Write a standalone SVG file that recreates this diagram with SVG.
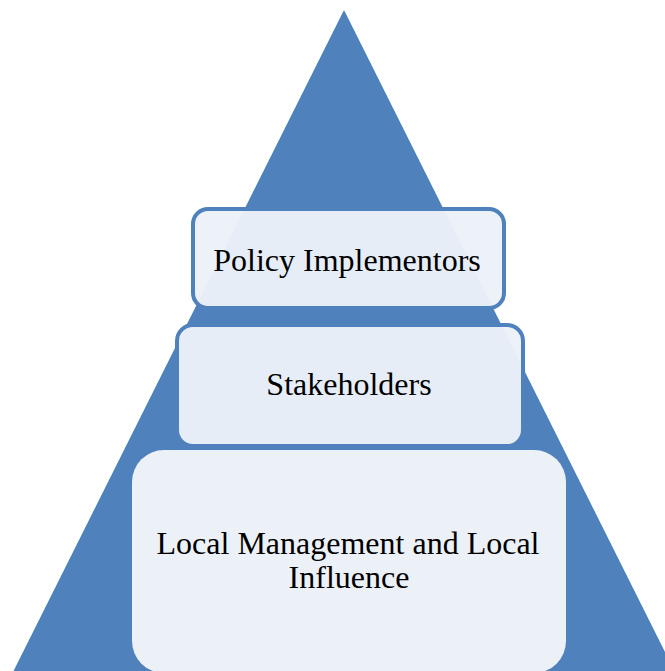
<svg xmlns="http://www.w3.org/2000/svg" width="665" height="671" viewBox="0 0 665 671">
<style>
.box{fill:#ECF1F8;fill-opacity:0.96;stroke:#4F81BD;stroke-width:4}
.lbl{font-family:"Liberation Serif","Times New Roman",serif;font-size:32px;fill:#000;text-anchor:middle}
</style>
<rect x="0" y="0" width="665" height="671" fill="#FFFFFF"/>
<g id="pyramid">
<polygon points="344,10 674.5,671 13.5,671" fill="#4F81BD"/>
</g>
<g id="connectors"></g>
<g id="policy-implementors">
<rect class="box" x="193" y="209" width="311" height="99" rx="15"/>
<text class="lbl" x="347" y="271">Policy Implementors</text>
</g>
<g id="stakeholders">
<rect class="box" x="177" y="325" width="346" height="121" rx="16"/>
<text class="lbl" x="349" y="395">Stakeholders</text>
</g>
<g id="local-management">
<rect x="132" y="450" width="434" height="223" rx="32" fill="#ECF1F8"/>
<text class="lbl" x="348" y="554">Local Management and Local</text>
<text class="lbl" x="349" y="588">Influence</text>
</g>
</svg>
